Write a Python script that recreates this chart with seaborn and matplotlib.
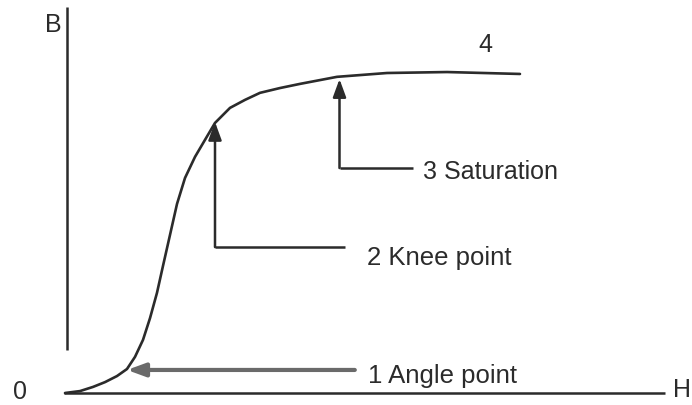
import matplotlib
matplotlib.use("Agg")
import matplotlib.pyplot as plt
import seaborn as sns
import pandas as pd

# B-H magnetisation curve (H, B in arbitrary units)
curve_h = [0.0, 0.25, 0.467, 0.667, 0.867, 1.033, 1.167, 1.3, 1.417, 1.533, 1.633,
           1.75, 1.867, 2.0, 2.167, 2.333, 2.5, 2.75, 3.0, 3.25, 3.583, 3.917,
           4.533, 5.367, 6.367, 7.583]
curve_b = [0.0, 0.006, 0.019, 0.034, 0.053, 0.075, 0.113, 0.166, 0.234, 0.313, 0.397,
           0.494, 0.591, 0.672, 0.738, 0.791, 0.844, 0.891, 0.916, 0.938, 0.953, 0.966,
           0.988, 1.0, 1.003, 0.997]

# annotated points on the curve (H, B)
point_labels = ["1 Angle point", "2 Knee point", "3 Saturation"]
point_h = [1.033, 2.5, 4.575]
point_b = [0.072, 0.847, 0.981]

sns.set_theme(style="white")
plt.rcParams["font.family"] = ["Liberation Sans", "DejaVu Sans"]

INK = "#2b2b2b"
FS = 18

fig = plt.figure(figsize=(6.92, 4.05), dpi=100)
ax = fig.add_axes([0, 0, 1, 1])
ax.set_xlim(-65 / 60, 627 / 60)
ax.set_ylim(-12 / 320, 393 / 320)
ax.axis("off")

df = pd.DataFrame({"H": curve_h, "B": curve_b})
sns.lineplot(data=df, x="H", y="B", ax=ax, color=INK, linewidth=1.9, sort=False,
             solid_joinstyle="round", solid_capstyle="round")

# axes lines
ax.plot([0.025, 0.025], [0.134, 1.206], color=INK, lw=1.8, solid_capstyle="butt")
ax.plot([-0.017, 10.0], [0.0, 0.0], color=INK, lw=1.8, solid_capstyle="butt")

# axis texts
ax.text(-0.333, 1.128, "B", fontsize=FS, color=INK, ha="left", va="baseline")
ax.text(-0.867, -0.034, "0", fontsize=FS, color=INK, ha="left", va="bottom")
ax.text(10.13, -0.0125, "H", fontsize=FS, color=INK, ha="left", va="baseline")
ax.text(7.0, 1.066, "4", fontsize=FS, color=INK, ha="center", va="baseline")

aprops = dict(arrowstyle="-|>,head_length=0.9,head_width=0.33", color=INK,
              lw=1.8, shrinkA=0, shrinkB=0)

# 1 Angle point: horizontal arrow
ax.annotate("", xy=(point_h[0], point_b[0]), xytext=(4.83, point_b[0]),
            arrowprops=dict(aprops, color="#6a6a6a", lw=3.0))
ax.text(5.05, 0.031, point_labels[0], fontsize=FS + 0.5, color=INK, ha="left", va="baseline")

# 2 Knee point: L-shaped arrow
ax.plot([4.667, point_h[1]], [0.456, 0.456], color=INK, lw=1.8, solid_capstyle="butt")
ax.annotate("", xy=(point_h[1], point_b[1]), xytext=(point_h[1], 0.456), arrowprops=aprops)
ax.text(5.033, 0.40, point_labels[1], fontsize=FS + 0.5, color=INK, ha="left", va="baseline")

# 3 Saturation: L-shaped arrow
ax.plot([5.8, point_h[2]], [0.703, 0.703], color=INK, lw=1.8, solid_capstyle="butt")
ax.annotate("", xy=(point_h[2], point_b[2]), xytext=(point_h[2], 0.703), arrowprops=aprops)
ax.text(5.967, 0.669, point_labels[2], fontsize=FS, color=INK, ha="left", va="baseline")

fig.savefig("out.png", dpi=100)
